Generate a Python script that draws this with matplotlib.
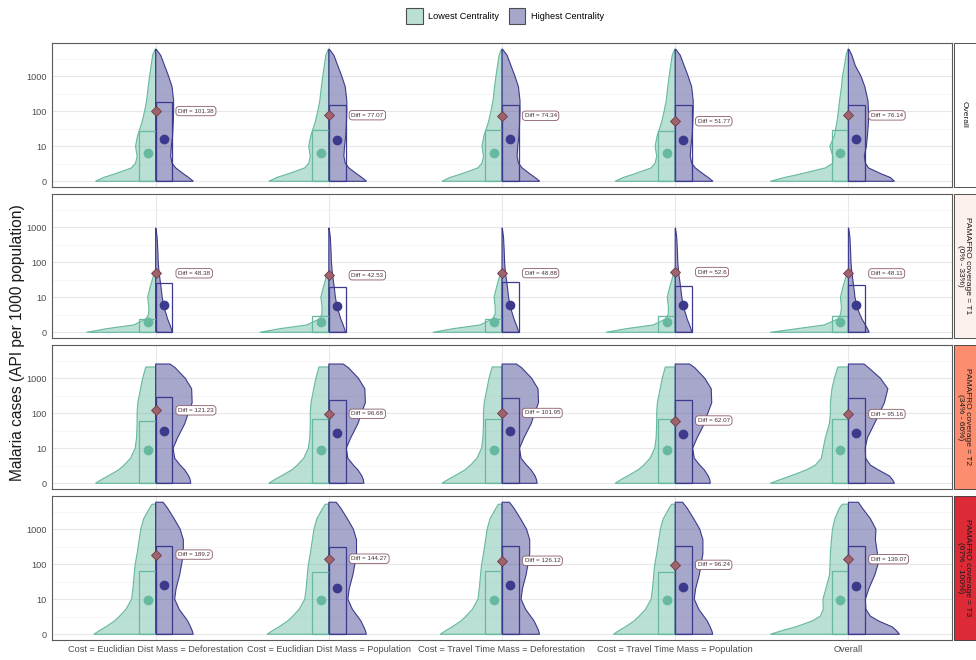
# Split violins of malaria API by centrality group, one row per PAMAFRO coverage level.

import matplotlib
matplotlib.use("Agg")
import matplotlib.pyplot as plt
from matplotlib.patches import Polygon, Rectangle, Patch
from matplotlib.colors import to_rgba

plt.rcParams["font.family"] = ["Liberation Sans", "DejaVu Sans"]

# ------------------------
# DATA
# ------------------------

CATEGORIES = [
    "Cost = Euclidian Dist Mass = Deforestation",
    "Cost = Euclidian Dist Mass = Population",
    "Cost = Travel Time Mass = Deforestation",
    "Cost = Travel Time Mass = Population",
    "Overall",
]
ROW_LABELS = [
    "Overall",
    "PAMAFRO coverage = T1\n(0% - 33%)",
    "PAMAFRO coverage = T2\n(34% - 66%)",
    "PAMAFRO coverage = T3\n(67% - 100%)",
]
STRIP_COLORS = ["#ffffff", "#fdf1ed", "#fc8d6f", "#dc2a37"]

# mean difference (highest - lowest), one list per row
DIFFS = [
    [101.38, 77.07, 74.34, 51.77, 76.14],
    [48.38, 42.53, 48.88, 52.6, 48.11],
    [121.23, 96.68, 101.95, 62.07, 95.16],
    [189.2, 144.27, 126.12, 96.24, 139.07],
]
# upper edge of the boxes (lower edge sits at 0)
LOW_Q3 = [
    [27, 28.5, 28.5, 28, 28.5],
    [2.0, 2.5, 2.0, 2.5, 2.5],
    [62, 67, 67, 67, 67],
    [63, 62, 65, 61, 65],
]
HIGH_Q3 = [
    [178, 148, 148, 148, 155],
    [25.7, 20, 27, 20.4, 22],
    [288, 245, 269, 245, 269],
    [339, 316, 325, 325, 325],
]
# dots
LOW_POINT = [
    [6.2, 6.2, 6.2, 6.2, 6.2],
    [1.4, 1.4, 1.4, 1.4, 1.4],
    [8.8, 8.8, 8.8, 8.8, 8.8],
    [9.4, 9.4, 9.4, 9.4, 9.4],
]
HIGH_POINT = [
    [16.5, 15.1, 16.5, 15.5, 16.5],
    [5.8, 5.5, 6.0, 5.8, 6.0],
    [30.2, 27.5, 30.2, 25.7, 27.5],
    [26.3, 20.9, 25.1, 22.9, 24.0],
]

# violin half-widths (x units) read at these case levels
LEVELS = [0, 0.5, 1, 2, 3, 5, 10, 20, 50, 100, 200, 500, 1000, 2000, 4000]

LOW_WIDTH = [
    [.347, .301, .237, .139, .116, .107, .116, .104, .078, .064, .052, .043, .035, .026, .017],
    [.399, .277, .127, .055, .040, .039, .046, .031],
    [.347, .312, .275, .214, .182, .145, .118, .110, .107, .107, .103, .087, .075, .058],
    [.357, .324, .289, .237, .208, .171, .139, .131, .124, .118, .107, .095, .086, .069, .035],
]
HIGH_WIDTH = [
    [.218, .191, .162, .116, .095, .087, .091, .098, .102, .104, .104, .095, .075, .052, .029],
    [.097, .090, .083, .069, .061, .048, .038, .031, .020, .015, .013, .009],
    [.203, .199, .191, .168, .142, .110, .101, .127, .168, .188, .211, .208, .171, .113],
    [.217, .211, .202, .185, .165, .136, .110, .118, .139, .150, .160, .160, .142, .107, .069],
]
# the "Overall" column has its own shapes
LOW_WIDTH_ALL = [
    [.451, .370, .277, .133, .090, .090, .107, .081, .066, .058, .051, .040, .034, .023, .013],
    [.451, .290, .140, .060, .045, .040, .046, .031],
    [.451, .393, .335, .243, .191, .156, .145, .133, .110, .104, .104, .095, .081, .062],
    [.451, .382, .306, .208, .162, .145, .147, .130, .109, .106, .104, .098, .092, .078, .052],
]
HIGH_WIDTH_ALL = [
    [.266, .243, .191, .116, .098, .092, .104, .110, .116, .116, .113, .095, .073, .040, .020],
    [.120, .110, .098, .078, .066, .050, .038, .031, .020, .015, .013, .009],
    [.266, .254, .237, .173, .127, .100, .097, .110, .150, .179, .208, .228, .185, .116],
    [.295, .277, .254, .173, .127, .101, .098, .118, .153, .171, .168, .156, .159, .127, .081],
]
# max value of each violin and the width there
LOW_TOP = [5900, 48, 2100, 5200]
HIGH_TOP = [5900, 950, 2550, 5900]
LOW_TOP_W = [.003, .009, .057, .020]
HIGH_TOP_W = [.003, .002, .083, .043]
LOW_TOP_W_ALL = [.003, .009, .060, .035]
HIGH_TOP_W_ALL = [.003, .002, .090, .057]

GREEN = "#66b9a0"
PURPLE = "#3c3a8c"
DIAMOND = "#a0626c"

# ------------------------
# HELPERS
# ------------------------

def half_violin(ax, c, widths, top, top_w, side, color):
    ys = LEVELS[:len(widths)] + [top]
    ws = list(widths) + [top_w]
    verts = [(c + side * w, y) for w, y in zip(ws, ys)] + [(c, top), (c, 0)]
    ax.add_patch(Polygon(verts, closed=True, facecolor=to_rgba(color, 0.45),
                         edgecolor=color, lw=0.8, zorder=2))


def box(ax, c, q3, side, color):
    x0 = c if side > 0 else c - 0.097
    ax.add_patch(Rectangle((x0, 0), 0.097, q3, facecolor="none",
                           edgecolor=color, lw=0.9, zorder=3))


# ------------------------
# FIGURE
# ------------------------

W, H = 976, 660
fig = plt.figure(figsize=(W / 100, H / 100), dpi=100)

left, right = 51.7, 952.3
row_tops = [43, 194, 345, 496]
row_h = 143.8

for r, top_px in enumerate(row_tops):
    ax = fig.add_axes([left / W, 1 - (top_px + row_h) / H, (right - left) / W, row_h / H])
    ax.set_yscale("asinh", linear_width=2)
    ax.set_xlim(0.4, 5.6)
    ax.set_ylim(-0.74, 8900)

    for j in range(5):
        c = j + 1
        if j == 4:
            lw_, hw_ = LOW_WIDTH_ALL[r], HIGH_WIDTH_ALL[r]
            ltw, htw = LOW_TOP_W_ALL[r], HIGH_TOP_W_ALL[r]
        else:
            lw_, hw_ = LOW_WIDTH[r], HIGH_WIDTH[r]
            ltw, htw = LOW_TOP_W[r], HIGH_TOP_W[r]
        half_violin(ax, c, lw_, LOW_TOP[r], ltw, -1, GREEN)
        half_violin(ax, c, hw_, HIGH_TOP[r], htw, +1, PURPLE)
        box(ax, c, LOW_Q3[r][j], -1, GREEN)
        box(ax, c, HIGH_Q3[r][j], +1, PURPLE)
        ax.plot(c - 0.046, LOW_POINT[r][j], "o", ms=6, color=GREEN, zorder=4)
        ax.plot(c + 0.046, HIGH_POINT[r][j], "o", ms=6, color=PURPLE, zorder=4)
        ax.plot(c, DIFFS[r][j], "D", ms=4.8, mfc=DIAMOND, mec="#6d3b47", mew=0.6, zorder=5)
        ax.text(c + 0.13, DIFFS[r][j], f"Diff = {DIFFS[r][j]}", fontsize=4.5,
                color="#4a3038", ha="left", va="center", zorder=6,
                bbox=dict(boxstyle="round,pad=0.35,rounding_size=0.5", fc="white",
                          ec="#8a5a66", lw=0.6))

    ax.set_yticks([0, 10, 100, 1000], labels=["0", "10", "100", "1000"])
    ax.set_yticks([2.85, 31.6, 316, 3162], minor=True)
    ax.set_xticks(range(1, 6))
    if r == 3:
        ax.set_xticklabels(CATEGORIES)
    else:
        ax.set_xticklabels([])
    ax.tick_params(which="both", length=0, labelsize=6.6, labelcolor="#4d4d4d")
    ax.tick_params(axis="y", pad=3.5)
    ax.tick_params(axis="x", pad=3.5)
    ax.grid(which="major", color="#e8e8e8", lw=0.8)
    ax.grid(which="minor", axis="y", color="#f3f3f3", lw=0.5)
    ax.set_axisbelow(True)
    for s in ax.spines.values():
        s.set_color("#5a5a5a")
        s.set_linewidth(0.8)

    # facet strip on the right
    sx = 953.5 / W
    sy = 1 - (top_px + row_h) / H
    fig.add_artist(Rectangle((sx, sy), 22 / W, row_h / H, transform=fig.transFigure,
                             facecolor=STRIP_COLORS[r], edgecolor="#333333", lw=0.6))
    fig.text(sx + 10.5 / W, sy + row_h / H / 2, ROW_LABELS[r], rotation=-90,
             ha="center", va="center", fontsize=6.0, color="#1a1a1a",
             multialignment="center", linespacing=1.05)

fig.text(18 / W, 1 - 343 / H, "Malaria cases (API per 1000 population)",
         rotation=90, ha="center", va="center", fontsize=11.2, color="#1a1a1a")

handles = [Patch(facecolor=to_rgba(GREEN, 0.45), edgecolor="#4d4d4d", lw=0.8),
           Patch(facecolor=to_rgba(PURPLE, 0.45), edgecolor="#4d4d4d", lw=0.8)]
fig.legend(handles, ["Lowest Centrality", "Highest Centrality"], loc="center",
           bbox_to_anchor=(505 / W, 1 - 16 / H), ncol=2, frameon=False, fontsize=6.6,
           handlelength=1.8, handleheight=2.4, handletextpad=0.6, columnspacing=1.0)

fig.savefig("out.png", dpi=100)
